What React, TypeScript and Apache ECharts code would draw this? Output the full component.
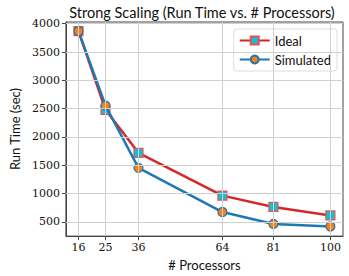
import React, { useEffect, useRef } from "react";
import * as echarts from "echarts";

const processors = [16, 25, 36, 64, 81, 100];
const idealTime = [3870, 2480, 1720, 965, 765, 615];
const simulatedTime = [3870, 2555, 1455, 675, 465, 420];
const yTicks = [500, 1000, 1500, 2000, 2500, 3000, 3500, 4000];

export default function App() {
  const ref = useRef<HTMLDivElement>(null);
  useEffect(() => {
    const chart = echarts.init(ref.current!, null, { renderer: "svg" });
    const serif = "DejaVu Serif";
    const sans = "Lato";
    chart.setOption({
      animation: false,
      title: {
        text: "Strong Scaling (Run Time vs. # Processors)",
        left: 197,
        textAlign: "center",
        top: 1,
        padding: [3, 5, 3, 5],
        textStyle: { fontFamily: sans, fontSize: 14.5, fontWeight: "normal", color: "#111", lineHeight: 17 },
      },
      legend: {
        right: 12,
        top: 29,
        orient: "vertical",
        itemWidth: 30,
        itemHeight: 10,
        itemGap: 6,
        padding: [5, 6, 5, 5],
        borderColor: "#ddd",
        borderWidth: 1,
        borderRadius: 3,
        backgroundColor: "rgba(255,255,255,0.85)",
        textStyle: { fontFamily: sans, fontSize: 13, color: "#111" },
        data: ["Ideal", "Simulated"],
      },
      grid: { left: 53, right: 6, top: 22, bottom: 38, containLabel: false, show: true, borderColor: "#444", borderWidth: 1 },
      xAxis: {
        type: "value",
        min: 11.8,
        max: 104.2,
        name: "# Processors",
        nameLocation: "middle",
        nameGap: 19,
        nameTextStyle: { fontFamily: sans, fontSize: 13, color: "#111" },
        axisLine: { show: true, lineStyle: { color: "#444" } },
        axisTick: { show: true, length: 4, customValues: processors, lineStyle: { color: "#444" } },
        axisLabel: { customValues: processors, fontFamily: serif, fontSize: 11, color: "#111", margin: 6, formatter: (v: number) => String(v) },
        splitLine: { show: false },
      },
      yAxis: {
        type: "value",
        min: 250,
        max: 4030,
        name: "Run Time (sec)",
        nameLocation: "middle",
        nameGap: 38,
        nameTextStyle: { fontFamily: sans, fontSize: 13, color: "#111" },
        axisLine: { show: true, lineStyle: { color: "#444" } },
        axisTick: { show: true, length: 4, customValues: yTicks, lineStyle: { color: "#444" } },
        axisLabel: { customValues: yTicks, fontFamily: serif, fontSize: 11, color: "#111", margin: 6, formatter: (v: number) => String(v) },
        splitLine: { show: false },
      },
      series: [
        {
          name: "grid",
          type: "line",
          data: [[processors[0], idealTime[0]]],
          showSymbol: false,
          lineStyle: { opacity: 0 },
          silent: true,
          z: 1,
          markLine: {
            silent: true,
            symbol: "none",
            label: { show: false },
            lineStyle: { color: "#d0d0d0", width: 1, type: "solid" },
            data: [
              ...processors.map((p) => ({ xAxis: p })),
              ...yTicks.map((v) => ({ yAxis: v })),
            ],
          },
        },
        {
          name: "Ideal",
          type: "line",
          data: processors.map((p, i) => [p, idealTime[i]]),
          symbol: "rect",
          symbolSize: 9,
          lineStyle: { color: "#d62728", width: 2.5 },
          itemStyle: { color: "#17becf", borderColor: "#e0555a", borderWidth: 1.2 },
          z: 3,
        },
        {
          name: "Simulated",
          type: "line",
          data: processors.map((p, i) => [p, simulatedTime[i]]),
          symbol: "circle",
          symbolSize: 9,
          lineStyle: { color: "#1f77b4", width: 2.5 },
          itemStyle: { color: "#ff7f0e", borderColor: "#1f77b4", borderWidth: 1.2 },
          z: 4,
        },
      ],
    });
    return () => chart.dispose();
  }, []);
  return <div ref={ref} style={{ width: 349, height: 276, position: "absolute", left: 0, top: 0 }} />;
}
